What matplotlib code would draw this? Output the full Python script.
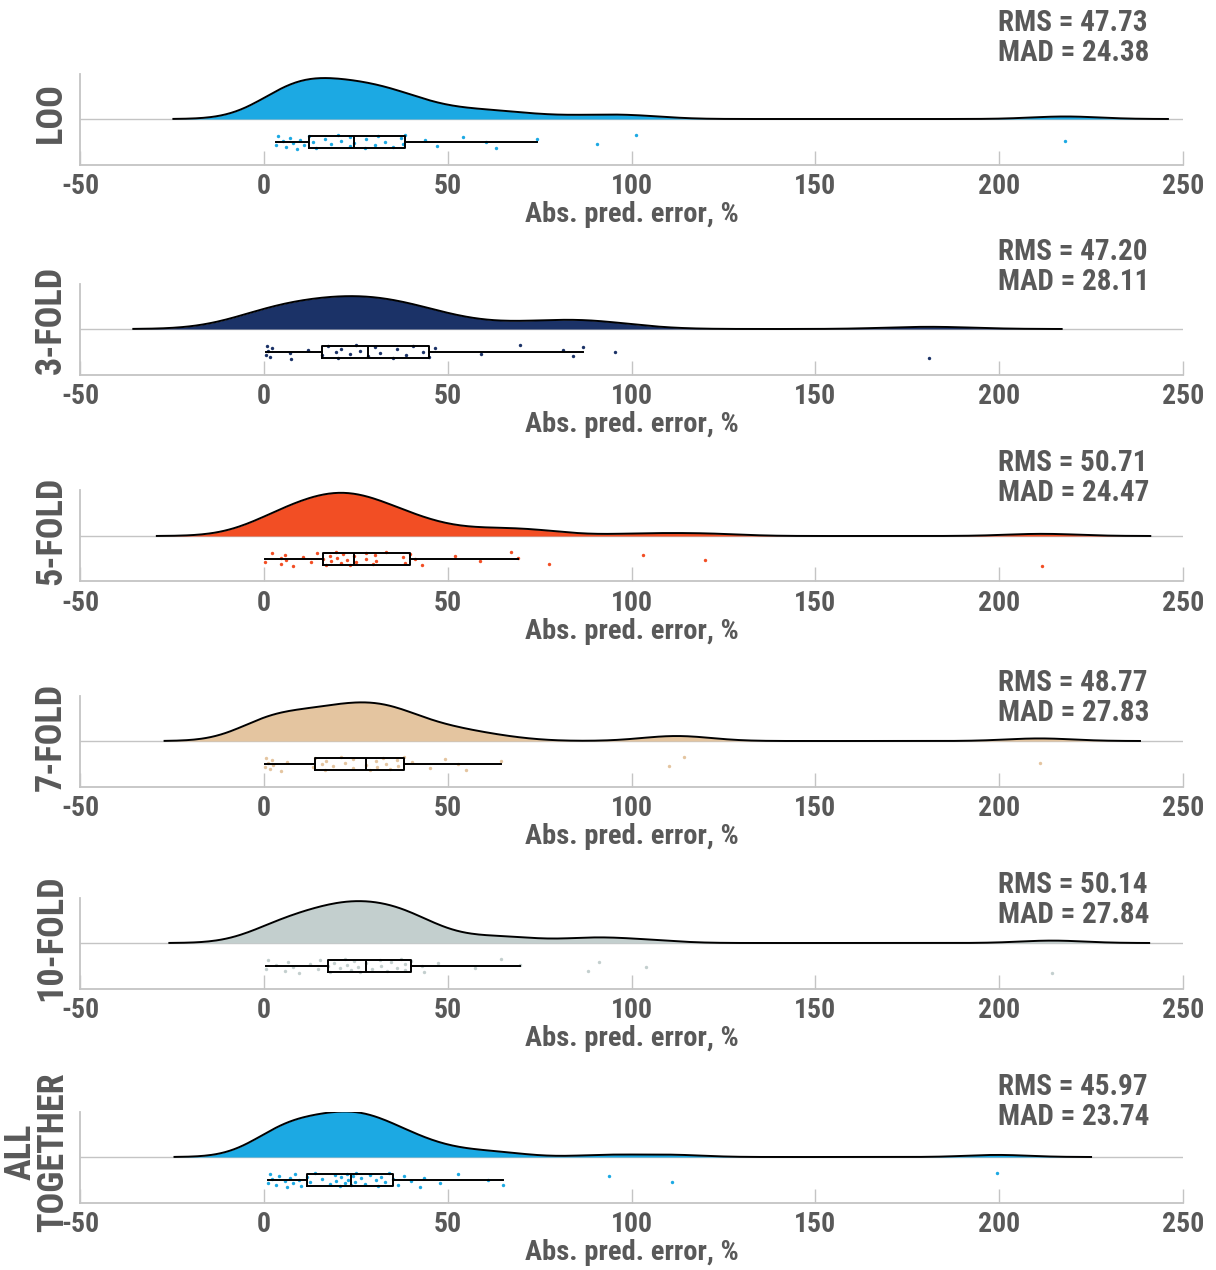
import numpy as np
import matplotlib
matplotlib.use("Agg")
import matplotlib.pyplot as plt
from matplotlib import font_manager

# ---------------- data ----------------
labels = ["LOO", "3-FOLD", "5-FOLD", "7-FOLD", "10-FOLD", "ALL\nTOGETHER"]

loo = [3.3, 3.9, 5.2, 6.0, 7.1, 8.0, 8.9, 9.8, 11.0, 12.3, 13.4, 14.3, 16.6, 18.4, 20.2,
       21.1, 23.4, 23.4, 24.5, 27.4, 27.9, 30.2, 31.1, 32.9, 35.0, 37.4, 37.9, 38.3, 43.8,
       47.0, 54.2, 60.5, 63.2, 74.3, 90.5, 101.2, 218.0]
fold3 = [0.5, 0.8, 1.2, 1.6, 2.1, 7.1, 7.5, 12.0, 15.7, 17.5, 19.7, 20.2, 21.1, 23.4, 25.2,
         26.1, 28.2, 30.2, 31.5, 35.1, 36.1, 38.8, 40.6, 43.3, 44.9, 46.5, 59.2, 69.6, 81.3,
         84.1, 86.8, 95.4, 181.0]
fold5 = [0.3, 2.1, 4.8, 4.8, 5.7, 6.0, 7.8, 10.7, 12.8, 14.5, 16.1, 17.0, 17.9, 18.4, 19.5,
         20.0, 21.1, 21.6, 22.5, 23.4, 24.5, 25.0, 27.9, 27.9, 29.7, 30.2, 30.6, 33.2, 37.9,
         38.3, 39.7, 41.0, 42.9, 52.1, 58.7, 67.1, 69.1, 77.5, 103.1, 120.0, 211.7]
fold7 = [0.3, 0.7, 1.2, 1.6, 2.1, 2.5, 4.8, 6.3, 13.4, 14.0, 15.7, 16.6, 17.0, 18.8, 21.1,
         22.0, 24.3, 24.3, 27.7, 29.0, 30.6, 30.9, 32.4, 33.3, 34.2, 36.1, 36.5, 38.0, 40.4,
         45.1, 49.2, 52.8, 55.1, 64.6, 110.1, 114.4, 211.0]
fold10 = [0.7, 1.2, 3.4, 5.7, 6.6, 8.0, 9.6, 12.5, 14.8, 15.4, 17.5, 17.9, 19.0, 20.7, 22.0,
          22.5, 23.8, 24.5, 25.5, 26.1, 27.9, 29.5, 31.5, 32.0, 33.5, 34.7, 36.1, 37.4, 38.3,
          38.3, 40.1, 42.9, 43.5, 47.4, 57.3, 64.6, 69.6, 88.1, 91.1, 104.0, 214.4]
all_together = [1.2, 1.6, 2.1, 3.4, 4.2, 5.7, 6.3, 7.1, 8.0, 8.4, 9.6, 10.2, 11.8, 12.5, 14.0,
                15.7, 17.9, 19.3, 19.7, 20.7, 21.0, 22.0, 22.5, 22.9, 23.6, 24.3, 24.7, 25.2,
                26.5, 27.5, 29.0, 30.6, 31.1, 32.0, 32.9, 34.0, 35.1, 36.5, 38.0, 40.1, 42.4,
                43.5, 48.0, 52.8, 61.0, 65.0, 93.8, 111.1, 199.5]
datasets = [loo, fold3, fold5, fold7, fold10, all_together]

bandwidths = [9.3, 12.0, 9.8, 9.1, 8.8, 8.5]
rms_vals = ["47.73", "47.20", "50.71", "48.77", "50.14", "45.97"]
mad_vals = ["24.38", "28.11", "24.47", "27.83", "27.84", "23.74"]

xticks = [-50, 0, 50, 100, 150, 200, 250]
xlabel = "Abs. pred. error, %"

# ---------------- style / layout ----------------
colors = ["#1CA9E3", "#1B3267", "#F24E24", "#E4C5A0", "#C3CFCE", "#1CA9E3"]
txt_color = "#595959"
grid_gray = "#c4c4c4"

available = {f.name for f in font_manager.fontManager.ttflist}
condensed = [n for n in ["Roboto Condensed", "Liberation Sans Narrow", "Open Sans Condensed",
                         "DejaVu Sans Condensed"] if n in available]
narrow_ok = bool(condensed)
plt.rcParams["font.family"] = condensed + ["DejaVu Sans"]
plt.rcParams["font.weight"] = "bold"
if not narrow_ok:
    plt.rcParams["font.stretch"] = "condensed"

W, H = 1216, 1270
fig = plt.figure(figsize=(W / 100, H / 100), dpi=100)

baselines_px = [119, 329, 536, 741, 943, 1157]
half_h = 45.5
ax_left_px, ax_w_px = 80, 1103
rms_off_px = [96, 77, 73, 58, 58, 70]
ylab_x_px = [51, 51, 51, 51, 51, 37]
ylab_dy_px = [6, 9, 5, 4, 5, 5]

fs_tick = 20 if narrow_ok else 16
fs_xlab = 20.5 if narrow_ok else 16
fs_lab = 26 if narrow_ok else 20
fs_rms = 21 if narrow_ok else 17


def kde(x, bw):
    x = np.asarray(x, float)
    xi = np.linspace(x.min() - 3 * bw, x.max() + 3 * bw, 400)
    z = (xi[:, None] - x[None, :]) / bw
    f = np.exp(-0.5 * z ** 2).sum(axis=1) / (len(x) * bw * np.sqrt(2 * np.pi))
    return xi, f


kdes = [kde(d, bw) for d, bw in zip(datasets, bandwidths)]
L = max(f.max() for _, f in kdes) * 1.0

for i, (d, (xi, f)) in enumerate(zip(datasets, kdes)):
    b = baselines_px[i]
    ax = fig.add_axes([ax_left_px / W, 1 - (b + half_h) / H, ax_w_px / W, 2 * half_h / H])
    x = np.asarray(d, float)
    c = colors[i]

    ax.axhline(0, color=grid_gray, lw=1.0, zorder=1)
    ax.fill_between(xi, 0, f, color=c, lw=0, zorder=2)
    ax.plot(xi, f, color="black", lw=1.4, zorder=3)

    n = len(x)
    jit = ((np.arange(n) * 0.61803398875 + 0.3) % 1.0) - 0.5
    ax.scatter(x, -0.5 * L + jit * 0.32 * L, s=6, color=c, lw=0, zorder=4)

    ax.boxplot(x, positions=[-0.5 * L], widths=0.26 * L, orientation="horizontal",
               showfliers=False, showcaps=False, whis=1.5, manage_ticks=False,
               boxprops=dict(color="black", lw=1.4),
               whiskerprops=dict(color="black", lw=1.4),
               medianprops=dict(color="black", lw=1.4),
               zorder=5)

    ax.set_xlim(-50, 250)
    ax.set_ylim(-L, L)
    for s in ["top", "right"]:
        ax.spines[s].set_visible(False)
    for s in ["left", "bottom"]:
        ax.spines[s].set_color(grid_gray)
        ax.spines[s].set_linewidth(1.3)
    ax.set_yticks([])
    ax.set_xticks(xticks)
    ax.set_xticklabels([str(t) for t in xticks])
    ax.tick_params(axis="x", direction="in", length=10, width=1.0, color=grid_gray,
                   labelsize=fs_tick, labelcolor=txt_color, pad=6)
    ax.set_xlabel(xlabel, fontsize=fs_xlab, color=txt_color, fontweight="bold", labelpad=1)

    ax.text((ylab_x_px[i] - ax_left_px) / ax_w_px, 0.5 + ylab_dy_px[i] / (2 * half_h),
            labels[i], rotation=90, ha="center", va="center", fontsize=fs_lab,
            color=txt_color, fontweight="bold", linespacing=0.85,
            transform=ax.transAxes)

    tx = (998 - ax_left_px) / ax_w_px
    ax.text(tx, 0.5 + rms_off_px[i] / (2 * half_h), f"RMS = {rms_vals[i]}",
            ha="left", va="center", fontsize=fs_rms, color=txt_color, fontweight="bold",
            transform=ax.transAxes)
    ax.text(tx, 0.5 + (rms_off_px[i] - 30) / (2 * half_h), f"MAD = {mad_vals[i]}",
            ha="left", va="center", fontsize=fs_rms, color=txt_color, fontweight="bold",
            transform=ax.transAxes)

fig.savefig("out.png", dpi=100, facecolor="white")
